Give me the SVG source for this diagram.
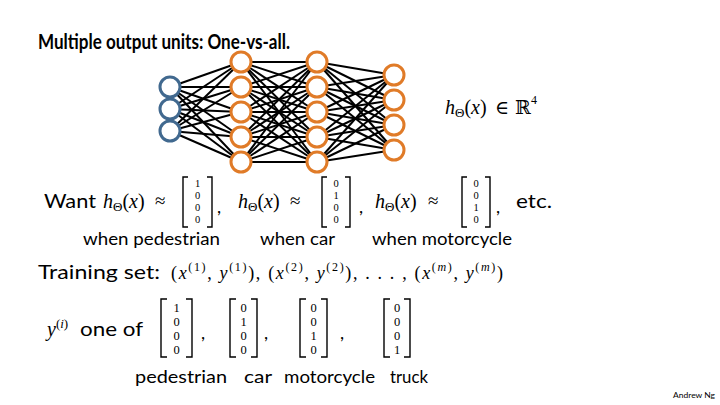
<svg xmlns="http://www.w3.org/2000/svg" width="720" height="405" viewBox="0 0 720 405">
<style>
.t{font-family:Lato,"Liberation Sans",Arial,sans-serif;fill:#000}
.m{font-family:"Liberation Serif","DejaVu Serif",serif;fill:#000}
.i{font-style:italic}
.br{fill:none;stroke:#000;stroke-width:1.4}
.n{font-family:"Liberation Serif",serif;font-size:10.5px;text-anchor:middle}
.nb{font-family:"Liberation Serif",serif;font-size:12.5px;text-anchor:middle}
.conn line{stroke:#000;stroke-width:2}
.in{fill:#fff;stroke:#41698F;stroke-width:3}
.hid{fill:#fff;stroke:#E07B28;stroke-width:3}
</style>
<rect width="720" height="405" fill="#fff"/>
<text id="title" class="t" x="38" y="49" font-size="21" font-weight="bold" textLength="252" lengthAdjust="spacingAndGlyphs">Multiple output units: One-vs-all.</text>

<g id="connectors" class="conn">
<line x1="170" y1="87" x2="241" y2="62"/><line x1="170" y1="87" x2="241" y2="87"/><line x1="170" y1="87" x2="241" y2="112"/><line x1="170" y1="87" x2="241" y2="137"/><line x1="170" y1="87" x2="241" y2="162"/>
<line x1="170" y1="109" x2="241" y2="62"/><line x1="170" y1="109" x2="241" y2="87"/><line x1="170" y1="109" x2="241" y2="112"/><line x1="170" y1="109" x2="241" y2="137"/><line x1="170" y1="109" x2="241" y2="162"/>
<line x1="170" y1="131" x2="241" y2="62"/><line x1="170" y1="131" x2="241" y2="87"/><line x1="170" y1="131" x2="241" y2="112"/><line x1="170" y1="131" x2="241" y2="137"/><line x1="170" y1="131" x2="241" y2="162"/>
<line x1="241" y1="62" x2="317" y2="62"/><line x1="241" y1="62" x2="317" y2="87"/><line x1="241" y1="62" x2="317" y2="112"/><line x1="241" y1="62" x2="317" y2="137"/><line x1="241" y1="62" x2="317" y2="162"/>
<line x1="241" y1="87" x2="317" y2="62"/><line x1="241" y1="87" x2="317" y2="87"/><line x1="241" y1="87" x2="317" y2="112"/><line x1="241" y1="87" x2="317" y2="137"/><line x1="241" y1="87" x2="317" y2="162"/>
<line x1="241" y1="112" x2="317" y2="62"/><line x1="241" y1="112" x2="317" y2="87"/><line x1="241" y1="112" x2="317" y2="112"/><line x1="241" y1="112" x2="317" y2="137"/><line x1="241" y1="112" x2="317" y2="162"/>
<line x1="241" y1="137" x2="317" y2="62"/><line x1="241" y1="137" x2="317" y2="87"/><line x1="241" y1="137" x2="317" y2="112"/><line x1="241" y1="137" x2="317" y2="137"/><line x1="241" y1="137" x2="317" y2="162"/>
<line x1="241" y1="162" x2="317" y2="62"/><line x1="241" y1="162" x2="317" y2="87"/><line x1="241" y1="162" x2="317" y2="112"/><line x1="241" y1="162" x2="317" y2="137"/><line x1="241" y1="162" x2="317" y2="162"/>
<line x1="317" y1="62" x2="394" y2="75"/><line x1="317" y1="62" x2="394" y2="100"/><line x1="317" y1="62" x2="394" y2="125"/><line x1="317" y1="62" x2="394" y2="150"/>
<line x1="317" y1="87" x2="394" y2="75"/><line x1="317" y1="87" x2="394" y2="100"/><line x1="317" y1="87" x2="394" y2="125"/><line x1="317" y1="87" x2="394" y2="150"/>
<line x1="317" y1="112" x2="394" y2="75"/><line x1="317" y1="112" x2="394" y2="100"/><line x1="317" y1="112" x2="394" y2="125"/><line x1="317" y1="112" x2="394" y2="150"/>
<line x1="317" y1="137" x2="394" y2="75"/><line x1="317" y1="137" x2="394" y2="100"/><line x1="317" y1="137" x2="394" y2="125"/><line x1="317" y1="137" x2="394" y2="150"/>
<line x1="317" y1="162" x2="394" y2="75"/><line x1="317" y1="162" x2="394" y2="100"/><line x1="317" y1="162" x2="394" y2="125"/><line x1="317" y1="162" x2="394" y2="150"/>
</g>

<g id="layer1">
<circle id="in1" class="in" cx="170" cy="87" r="10"/>
<circle id="in2" class="in" cx="170" cy="109" r="10"/>
<circle id="in3" class="in" cx="170" cy="131" r="10"/>
</g>
<g id="layer2">
<circle id="h1a" class="hid" cx="241" cy="62" r="10"/>
<circle id="h1b" class="hid" cx="241" cy="87" r="10"/>
<circle id="h1c" class="hid" cx="241" cy="112" r="10"/>
<circle id="h1d" class="hid" cx="241" cy="137" r="10"/>
<circle id="h1e" class="hid" cx="241" cy="162" r="10"/>
</g>
<g id="layer3">
<circle id="h2a" class="hid" cx="317" cy="62" r="10"/>
<circle id="h2b" class="hid" cx="317" cy="87" r="10"/>
<circle id="h2c" class="hid" cx="317" cy="112" r="10"/>
<circle id="h2d" class="hid" cx="317" cy="137" r="10"/>
<circle id="h2e" class="hid" cx="317" cy="162" r="10"/>
</g>
<g id="layer4">
<circle id="o1" class="hid" cx="394" cy="75" r="10"/>
<circle id="o2" class="hid" cx="394" cy="100" r="10"/>
<circle id="o3" class="hid" cx="394" cy="125" r="10"/>
<circle id="o4" class="hid" cx="394" cy="150" r="10"/>
</g>

<g id="hrange">
<text class="m" x="445" y="114" font-size="20"><tspan class="i">h</tspan><tspan font-size="13" dy="3">Θ</tspan><tspan dy="-3">(</tspan><tspan class="i">x</tspan>)</text>
<text class="m" x="495" y="114" font-size="19">∈</text>
<text x="515" y="114" font-size="19" font-family="DejaVu Serif,serif">ℝ</text>
<text class="m" x="531" y="104" font-size="12">4</text>
</g>

<g id="want">
<text class="t" x="44" y="208" font-size="20" textLength="52" lengthAdjust="spacingAndGlyphs">Want</text>
<text class="m" x="103" y="208" font-size="20"><tspan class="i">h</tspan><tspan font-size="13" dy="3">Θ</tspan><tspan dy="-3">(</tspan><tspan class="i">x</tspan>)</text>
<text class="m" x="155" y="207" font-size="19">≈</text>
<path class="br" d="M188,177 H183 V227 H188 M207,177 H212 V227 H207"/>
<text class="n" x="197.5" y="187">1</text><text class="n" x="197.5" y="199">0</text><text class="n" x="197.5" y="211">0</text><text class="n" x="197.5" y="223">0</text>
<text class="t" x="217" y="213" font-size="18">,</text>
<text class="m" x="238" y="208" font-size="20"><tspan class="i">h</tspan><tspan font-size="13" dy="3">Θ</tspan><tspan dy="-3">(</tspan><tspan class="i">x</tspan>)</text>
<text class="m" x="290" y="207" font-size="19">≈</text>
<path class="br" d="M327,177 H322 V227 H327 M345,177 H350 V227 H345"/>
<text class="n" x="336" y="187">0</text><text class="n" x="336" y="199">1</text><text class="n" x="336" y="211">0</text><text class="n" x="336" y="223">0</text>
<text class="t" x="359" y="213" font-size="18">,</text>
<text class="m" x="375" y="208" font-size="20"><tspan class="i">h</tspan><tspan font-size="13" dy="3">Θ</tspan><tspan dy="-3">(</tspan><tspan class="i">x</tspan>)</text>
<text class="m" x="428" y="207" font-size="19">≈</text>
<path class="br" d="M467,177 H462 V227 H467 M485,177 H490 V227 H485"/>
<text class="n" x="476" y="187">0</text><text class="n" x="476" y="199">0</text><text class="n" x="476" y="211">1</text><text class="n" x="476" y="223">0</text>
<text class="t" x="496" y="213" font-size="18">,</text>
<text class="t" x="516" y="208" font-size="20" textLength="36" lengthAdjust="spacingAndGlyphs">etc.</text>
<text class="t" x="83" y="245" font-size="17" textLength="137" lengthAdjust="spacingAndGlyphs">when pedestrian</text>
<text class="t" x="260" y="245" font-size="17" textLength="75" lengthAdjust="spacingAndGlyphs">when car</text>
<text class="t" x="372" y="245" font-size="17" textLength="140" lengthAdjust="spacingAndGlyphs">when motorcycle</text>
</g>

<g id="training">
<text class="t" x="38" y="279" font-size="20" textLength="122" lengthAdjust="spacingAndGlyphs">Training set:</text>
<text class="m" x="171" y="279" font-size="18" textLength="332" lengthAdjust="spacing">(<tspan class="i">x</tspan><tspan font-size="12" dy="-8">(1)</tspan><tspan dy="8">, </tspan><tspan class="i">y</tspan><tspan font-size="12" dy="-8">(1)</tspan><tspan dy="8">), (</tspan><tspan class="i">x</tspan><tspan font-size="12" dy="-8">(2)</tspan><tspan dy="8">, </tspan><tspan class="i">y</tspan><tspan font-size="12" dy="-8">(2)</tspan><tspan dy="8">), . . . , (</tspan><tspan class="i">x</tspan><tspan font-size="12" dy="-8">(</tspan><tspan font-size="12" class="i">m</tspan><tspan font-size="12">)</tspan><tspan dy="8">, </tspan><tspan class="i">y</tspan><tspan font-size="12" dy="-8">(</tspan><tspan font-size="12" class="i">m</tspan><tspan font-size="12">)</tspan><tspan dy="8">)</tspan></text>
</g>

<g id="oneof">
<text class="m" x="47" y="336" font-size="20"><tspan class="i">y</tspan><tspan font-size="13" dy="-8">(</tspan><tspan font-size="13" class="i">i</tspan><tspan font-size="13">)</tspan></text>
<text class="t" x="80" y="336" font-size="20" textLength="63" lengthAdjust="spacingAndGlyphs">one of</text>
<path class="br" d="M167,299 H161 V357 H167 M186,299 H192 V357 H186"/>
<text class="nb" x="176.5" y="312">1</text><text class="nb" x="176.5" y="326">0</text><text class="nb" x="176.5" y="340">0</text><text class="nb" x="176.5" y="354">0</text>
<text class="t" x="201" y="339" font-size="18">,</text>
<path class="br" d="M236,299 H230 V357 H236 M251,299 H257 V357 H251"/>
<text class="nb" x="243.5" y="312">0</text><text class="nb" x="243.5" y="326">1</text><text class="nb" x="243.5" y="340">0</text><text class="nb" x="243.5" y="354">0</text>
<text class="t" x="264" y="339" font-size="18">,</text>
<path class="br" d="M306,299 H300 V357 H306 M321,299 H327 V357 H321"/>
<text class="nb" x="313.5" y="312">0</text><text class="nb" x="313.5" y="326">0</text><text class="nb" x="313.5" y="340">1</text><text class="nb" x="313.5" y="354">0</text>
<text class="t" x="340" y="339" font-size="18">,</text>
<path class="br" d="M390,299 H384 V357 H390 M404,299 H410 V357 H404"/>
<text class="nb" x="397" y="312">0</text><text class="nb" x="397" y="326">0</text><text class="nb" x="397" y="340">0</text><text class="nb" x="397" y="354">1</text>
<text class="t" x="135" y="383" font-size="17" textLength="92" lengthAdjust="spacingAndGlyphs">pedestrian</text>
<text class="t" x="244" y="383" font-size="17" textLength="28" lengthAdjust="spacingAndGlyphs">car</text>
<text class="t" x="284" y="383" font-size="17" textLength="91" lengthAdjust="spacingAndGlyphs">motorcycle</text>
<text class="t" x="390" y="383" font-size="17" textLength="38" lengthAdjust="spacingAndGlyphs">truck</text>
</g>

<text id="credit" class="t" x="673" y="398" font-size="8" textLength="42" lengthAdjust="spacingAndGlyphs">Andrew Ng</text>
</svg>
